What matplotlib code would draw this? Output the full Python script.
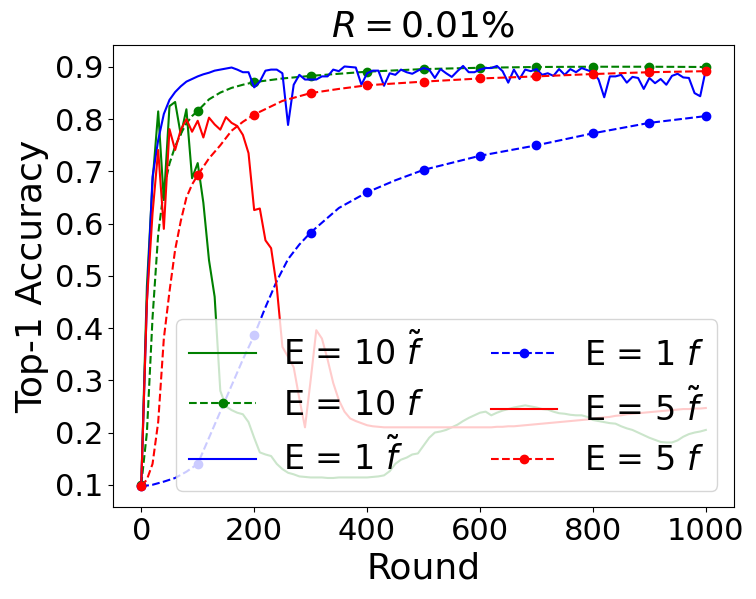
import numpy as np
import matplotlib
matplotlib.use("Agg")
import matplotlib.pyplot as plt

# rounds for the noisy (solid) curves, one value every 10 rounds
rounds = list(range(0, 1001, 10))

acc_e10_tilde = [0.1, 0.48, 0.68, 0.815, 0.645, 0.825, 0.833, 0.77, 0.819, 0.687,
                 0.716, 0.64, 0.53, 0.46, 0.28, 0.25, 0.243, 0.238, 0.235, 0.22,
                 0.19, 0.162, 0.158, 0.155, 0.14, 0.13, 0.123, 0.12, 0.116, 0.115,
                 0.114, 0.114, 0.114, 0.113, 0.113, 0.114, 0.114, 0.114, 0.114, 0.114,
                 0.114, 0.115, 0.116, 0.118, 0.126, 0.14, 0.148, 0.152, 0.158, 0.16,
                 0.175, 0.19, 0.2, 0.202, 0.205, 0.21, 0.215, 0.222, 0.228, 0.233,
                 0.238, 0.24, 0.233, 0.238, 0.242, 0.245, 0.248, 0.25, 0.252, 0.25,
                 0.248, 0.245, 0.244, 0.24, 0.237, 0.236, 0.234, 0.233, 0.233, 0.23,
                 0.224, 0.222, 0.22, 0.218, 0.217, 0.212, 0.208, 0.205, 0.2, 0.195,
                 0.19, 0.186, 0.182, 0.181, 0.181, 0.185, 0.192, 0.197, 0.2, 0.202,
                 0.205]

acc_e1_tilde = [0.1, 0.45, 0.69, 0.76, 0.81, 0.837, 0.852, 0.863, 0.872, 0.877,
                0.882, 0.886, 0.889, 0.893, 0.895, 0.897, 0.899, 0.895, 0.89, 0.89,
                0.861, 0.872, 0.893, 0.895, 0.895, 0.888, 0.789, 0.866, 0.885, 0.876,
                0.876, 0.876, 0.882, 0.882, 0.895, 0.892, 0.901, 0.9, 0.899, 0.866,
                0.888, 0.893, 0.893, 0.864, 0.888, 0.885, 0.895, 0.89, 0.887, 0.893,
                0.898, 0.895, 0.879, 0.896, 0.888, 0.881, 0.892, 0.902, 0.89, 0.89,
                0.895, 0.898, 0.898, 0.902, 0.892, 0.87, 0.895, 0.877, 0.895, 0.892,
                0.896, 0.885, 0.888, 0.883, 0.896, 0.885, 0.896, 0.89, 0.898, 0.894,
                0.89, 0.876, 0.842, 0.882, 0.882, 0.885, 0.87, 0.881, 0.879, 0.858,
                0.879, 0.869, 0.877, 0.866, 0.883, 0.887, 0.88, 0.879, 0.85, 0.844,
                0.895]

acc_e5_tilde = [0.1, 0.45, 0.62, 0.741, 0.59, 0.781, 0.741, 0.78, 0.8, 0.776,
                0.797, 0.765, 0.803, 0.79, 0.78, 0.804, 0.793, 0.787, 0.77, 0.735,
                0.626, 0.629, 0.568, 0.553, 0.479, 0.364, 0.345, 0.325, 0.265, 0.21,
                0.30, 0.396, 0.38, 0.34, 0.295, 0.262, 0.24, 0.227, 0.222, 0.218,
                0.214, 0.212, 0.211, 0.21, 0.21, 0.21, 0.21, 0.21, 0.21, 0.21,
                0.21, 0.21, 0.21, 0.21, 0.21, 0.21, 0.21, 0.21, 0.21, 0.21,
                0.21, 0.21, 0.21, 0.211, 0.211, 0.212, 0.212, 0.213, 0.214, 0.215,
                0.216, 0.217, 0.218, 0.219, 0.22, 0.221, 0.222, 0.223, 0.224, 0.225,
                0.226, 0.228, 0.229, 0.23, 0.232, 0.233, 0.235, 0.236, 0.237, 0.238,
                0.239, 0.24, 0.241, 0.242, 0.243, 0.244, 0.245, 0.245, 0.246, 0.246,
                0.247]

# smooth (dashed) curves
rounds_e10 = [0, 10, 20, 30, 40, 50, 60, 70, 80, 90, 100, 120, 140, 160, 180, 200,
              250, 300, 350, 400, 500, 600, 700, 800, 900, 1000]
acc_e10 = [0.1, 0.2, 0.42, 0.58, 0.665, 0.715, 0.748, 0.772, 0.792, 0.806, 0.816,
           0.838, 0.851, 0.86, 0.866, 0.871, 0.878, 0.883, 0.887, 0.891, 0.896,
           0.8985, 0.9, 0.9005, 0.9005, 0.9]

rounds_e1 = [0, 20, 40, 60, 80, 100, 120, 140, 160, 180, 200, 220, 240, 260, 280,
             300, 350, 400, 450, 500, 600, 700, 800, 900, 1000]
acc_e1 = [0.097, 0.1, 0.106, 0.113, 0.125, 0.14, 0.19, 0.24, 0.29, 0.34, 0.386,
          0.44, 0.49, 0.532, 0.56, 0.583, 0.63, 0.66, 0.683, 0.703, 0.73, 0.75,
          0.773, 0.793, 0.806]

rounds_e5 = [0, 10, 20, 30, 40, 50, 60, 70, 80, 90, 100, 120, 140, 160, 180, 200,
             250, 300, 350, 400, 500, 600, 700, 800, 900, 1000]
acc_e5 = [0.097, 0.11, 0.14, 0.22, 0.38, 0.47, 0.55, 0.605, 0.65, 0.675, 0.693,
          0.725, 0.75, 0.778, 0.795, 0.809, 0.835, 0.85, 0.858, 0.865, 0.872,
          0.878, 0.882, 0.8865, 0.89, 0.892]

yticks = [0.1, 0.2, 0.3, 0.4, 0.5, 0.6, 0.7, 0.8, 0.9]


def every100(xs):
    return [i for i, r in enumerate(xs) if r % 100 == 0]


fig, ax = plt.subplots(figsize=(7.56, 5.99), dpi=100)
fig.subplots_adjust(left=0.1495, right=0.971, bottom=0.153, top=0.925)

ax.plot(rounds, acc_e10_tilde, color='green', lw=1.5, label='E = 10 $\\tilde{f}$')
ax.plot(rounds_e10, acc_e10, color='green', ls='--', marker='o', ms=6,
        markevery=every100(rounds_e10), label='E = 10 $f$')
ax.plot(rounds, acc_e1_tilde, color='blue', lw=1.5, label='E = 1 $\\tilde{f}$')
ax.plot(rounds_e1, acc_e1, color='blue', ls='--', marker='o', ms=6,
        markevery=every100(rounds_e1), label='E = 1 $f$')
ax.plot(rounds, acc_e5_tilde, color='red', lw=1.5, label='E = 5 $\\tilde{f}$')
ax.plot(rounds_e5, acc_e5, color='red', ls='--', marker='o', ms=6,
        markevery=every100(rounds_e5), label='E = 5 $f$')

ax.set_yticks(yticks)
ax.set_title('$R = 0.01\\%$', fontsize=26)
ax.set_xlabel('Round', fontsize=26)
ax.set_ylabel('Top-1 Accuracy', fontsize=26)
ax.tick_params(labelsize=22)
ax.legend(ncol=2, fontsize=24, loc='lower right')

fig.savefig('out.png', dpi=100)
